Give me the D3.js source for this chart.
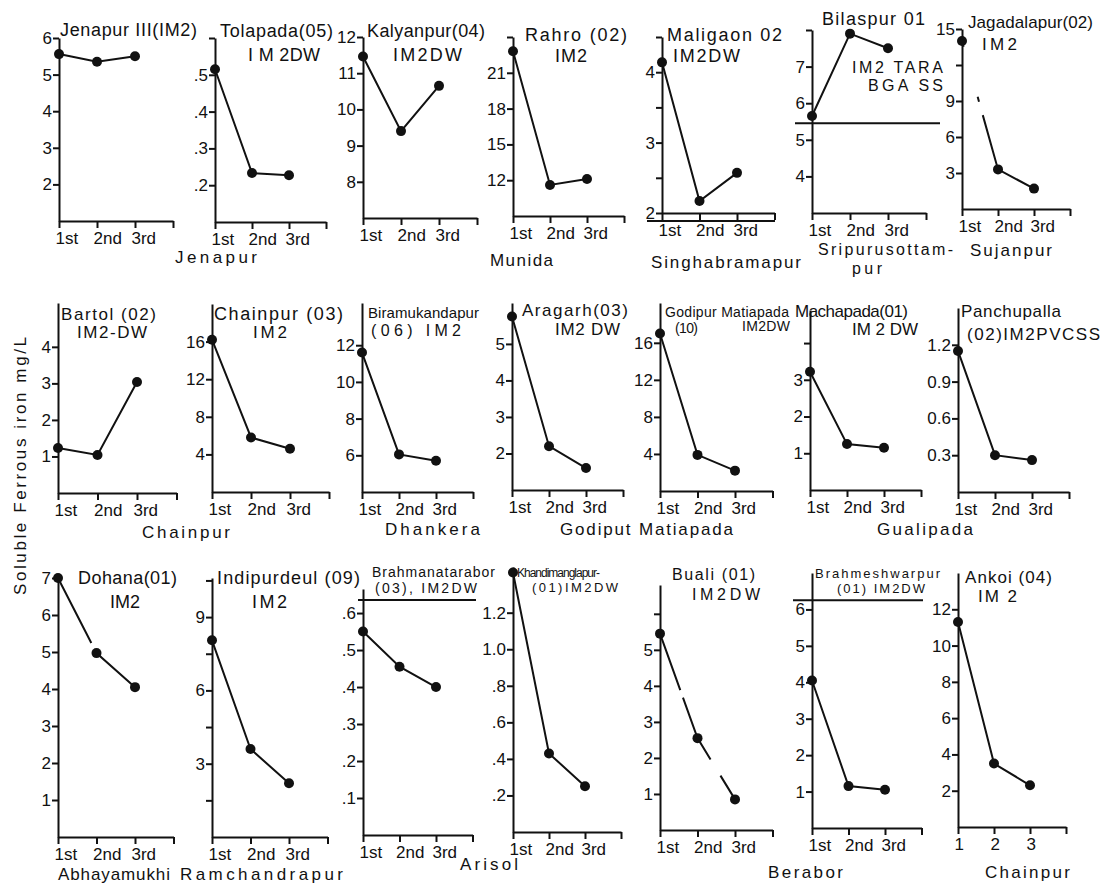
<!DOCTYPE html>
<html>
<head>
<meta charset="utf-8">
<script src="https://cdn.jsdelivr.net/npm/d3@7"></script>
<style>
    body { margin: 0; background: #fff; }
    svg { display: block; font-family: "Liberation Sans", Arial, sans-serif; }
    .axis path, .axis line { stroke: #111; stroke-width: 2; fill: none; }
    .axis text { font-size: 17px; fill: #111; font-family: "Liberation Sans", Arial, sans-serif; }
    .label { fill: #111; }
</style>
</head>
<body>
<script>
var w = 1108;
var h = 887;

var stages = ["1st", "2nd", "3rd"];
var stagesNumbered = ["1", "2", "3"];

var titles = [
    ["Jenapur III(IM2)"],
    ["Tolapada(05)", "I M 2DW"],
    ["Kalyanpur(04)", "IM2DW"],
    ["Rahro (02)", "IM2"],
    ["Maligaon 02", "IM2DW"],
    ["Bilaspur 01", "IM2 TARA", "BGA SS"],
    ["Jagadalapur(02)", "IM2"],
    ["Bartol (02)", "IM2-DW"],
    ["Chainpur (03)", "IM2"],
    ["Biramukandapur", "(06)  IM2"],
    ["Aragarh(03)", "IM2 DW"],
    ["Godipur Matiapada", "(10)", "IM2DW"],
    ["Machapada(01)", "IM 2 DW"],
    ["Panchupalla", "(02)IM2PVCSS"],
    ["Dohana(01)", "IM2"],
    ["Indipurdeul (09)", "IM2"],
    ["Brahmanatarabor", "(03), IM2DW"],
    ["Khandimanglapur-", "(01)IM2DW"],
    ["Buali (01)", "IM2DW"],
    ["Brahmeshwarpur", "(01) IM2DW"],
    ["Ankoi (04)", "IM 2"]
];

// soluble ferrous iron, mg/L, at 1st / 2nd / 3rd sampling
var ferrous = [
    [5.56, 5.35, 5.5],
    [0.515, 0.233, 0.227],
    [11.46, 9.4, 10.65],
    [22.8, 11.6, 12.1],
    [4.14, 2.17, 2.57],
    [5.65, 7.9, 7.5],
    [14, 3.3, 1.7],
    [1.23, 1.04, 3.04],
    [16.2, 5.8, 4.6],
    [11.6, 6.05, 5.7],
    [5.75, 2.2, 1.6],
    [17, 3.9, 2.2],
    [3.22, 1.25, 1.15],
    [1.15, 0.3, 0.26],
    [7, 4.97, 4.05],
    [8.05, 3.6, 2.2],
    [0.55, 0.455, 0.40],
    [1.42, 0.43, 0.25],
    [5.45, 2.55, 0.85],
    [4.05, 1.15, 1.05],
    [11.3, 3.5, 2.3]
];

var yDomains = [
    [1, 6], [0.1, 0.6], [7, 12], [9, 24], [2, 4.5], [3, 8], [0, 15],
    [0, 5.2], [0, 20], [4, 14.3], [1, 6.12], [0, 20.3], [0, 4.9], [0, 1.5],
    [0, 7], [0, 10.6], [0, 0.665], [0, 1.45], [0, 6.8], [0, 7], [0, 14]
];

var yTicks = [
    [2, 3, 4, 5, 6], [0.2, 0.3, 0.4, 0.5, 0.6], [8, 9, 10, 11, 12], [12, 15, 18, 21, 24],
    [2, 2.5, 3, 3.5, 4, 4.5], [4, 5, 6, 7, 8], [3, 6, 9, 12, 15],
    [1, 2, 3, 4], [4, 8, 12, 16], [6, 8, 10, 12], [2, 3, 4, 5], [4, 8, 12, 16], [1, 2, 3, 4], [0.3, 0.6, 0.9, 1.2],
    [1, 2, 3, 4, 5, 6, 7], [1.5, 3, 4.5, 6, 7.5, 9, 10.5], [0.1, 0.2, 0.3, 0.4, 0.5, 0.6],
    [0.2, 0.4, 0.6, 0.8, 1.0, 1.2], [1, 2, 3, 4, 5, 6], [1, 2, 3, 4, 5, 6], [2, 4, 6, 8, 10, 12]
];

var yTickLabels = [
    ["2", "3", "4", "5", "6"], [".2", ".3", ".4", ".5", ""], ["8", "9", "10", "11", "12"], ["12", "15", "18", "21", ""],
    ["2", "", "3", "", "4", ""], ["4", "5", "6", "7", ""], ["3", "6", "9", "", "15"],
    ["1", "2", "3", "4"], ["4", "8", "12", "16"], ["6", "8", "10", "12"], ["2", "3", "4", "5"], ["4", "8", "12", "16"],
    ["1", "2", "3", ""], ["0.3", "0.6", "0.9", "1.2"],
    ["1", "2", "3", "4", "5", "6", "7"], ["", "3", "", "6", "", "9", ""], [".1", ".2", ".3", ".4", ".5", ".6"],
    [".2", ".4", ".6", ".8", "1.0", "1.2"], ["1", "2", "3", "4", "5", ""], ["1", "2", "3", "4", "5", "6"],
    ["2", "4", "6", "8", "10", "12"]
];

// horizontal reference rules drawn across some panels (value on that panel's y scale)
var refLevels = [null, null, null, null, null, 5.45, null,
    null, null, null, null, null, null, null,
    null, null, 0.635, null, null, 6.25, null];

var blockNames = ["Jenapur", "Munida", "Singhabramapur", "Sripurusottam-", "pur", "Sujanpur",
    "Chainpur", "Dhankera", "Godiput  Matiapada", "Gualipada",
    "Abhayamukhi", "Ramchandrapur", "Arisol", "Berabor", "Chainpur"];

var yTitle = "Soluble  Ferrous  iron    mg/L";

// ---- layout ----
// [axis x, step between samplings, baseline y, top y]
var panelLayout = [
    [59, 38, 221, 38], [215, 37, 222, 38], [363, 38, 218, 37], [513, 37, 216, 37],
    [662, 37.5, 213, 37], [812, 38, 213, 30], [962, 36, 209, 29],
    [58, 39.5, 493, 303], [212, 39, 492, 304], [362, 37, 492, 303], [512, 37, 490, 303],
    [660, 37.5, 491, 303], [810, 37, 490, 310], [958, 37, 492, 308],
    [58, 38.5, 837, 578], [212, 38.5, 837, 578], [363, 36.5, 835, 589], [513, 36, 832, 567],
    [660, 37.5, 830, 585], [812, 36.5, 828, 573], [958, 36, 827, 573]
];

// per title line: [x, baseline y, width, font size]
var titleLayout = [
    [[60, 36, 137, 18]],
    [[220, 37, 113, 18], [248, 61, 72, 18]],
    [[367, 37, 118, 18], [393, 61, 69, 18]],
    [[525, 41, 102, 18], [555, 62, 32, 18]],
    [[667, 41, 115, 18], [673, 62, 67, 18]],
    [[822, 25, 103, 18], [852, 73, 91, 16], [868, 91, 75, 16]],
    [[968, 28, 125, 17], [982, 50, 35, 17]],
    [[61, 320, 95, 17], [77, 338, 70, 17]],
    [[214, 320, 129, 18], [253, 338, 34, 17]],
    [[368, 318, 111, 15], [371, 336, 90, 16]],
    [[522, 316, 106, 17], [555, 335, 65, 17]],
    [[665, 317, 124, 14], [675, 333, 23, 14], [742, 331, 48, 14]],
    [[795, 317, 113, 17], [852, 335, 66, 17]],
    [[961, 317, 100, 17], [967, 340, 133, 17]],
    [[78, 584, 99, 18], [110, 608, 30, 18]],
    [[217, 584, 143, 18], [252, 608, 35, 18]],
    [[372, 577, 123, 14], [375, 593, 102, 14]],
    [[517, 577, 83, 12], [532, 592, 86, 13]],
    [[672, 580, 83, 16], [692, 600, 68, 16]],
    [[815, 578, 125, 13], [837, 593, 88, 13]],
    [[965, 583, 87, 17], [978, 602, 39, 17]]
];

var refExtent = { 5: [-17, 128], 16: [-5, 113], 19: [-19, 111] };
var underline = { 4: [-15, 113, 8] };
var dashes = { 6: "6,52,5,14,2000", 14: "73,9,500", 18: "60,8,68,19,200" };

// [x, baseline y, width]
var blockLayout = [
    [175, 263, 82], [490, 266, 63], [651, 268, 150], [818, 255, 135], [852, 274, 30], [970, 256, 82],
    [142, 538, 88], [385, 535, 95], [560, 535, 173], [877, 535, 96],
    [58, 880, 112], [180, 880, 163], [460, 870, 58], [768, 878, 75], [985, 878, 85]
];

var svg = d3.select("body")
    .append("svg")
    .attr("width", w)
    .attr("height", h);

titles.forEach(function (t, i) {
    drawPanel(i);
});

function drawPanel(i) {
    var L = panelLayout[i];
    var ax = L[0], step = L[1], base = L[2], top = L[3];
    var labels = i == 20 ? stagesNumbered : stages;

    var xScale = d3.scalePoint()
        .domain(labels.concat(["end"]))
        .range([ax, ax + 3 * step]);

    var yScale = d3.scaleLinear()
        .domain(yDomains[i])
        .range([base, top]);

    var g = svg.append("g");

    var xAxis = d3.axisBottom(xScale)
        .tickSize(7)
        .tickSizeOuter(0)
        .tickFormat(function (d) { return d == "end" ? "" : d; });

    g.append("g")
        .attr("class", "axis")
        .attr("transform", "translate(0," + base + ")")
        .call(xAxis)
        .selectAll("text")
        .attr("y", 23)
        .attr("dy", 0)
        .attr("dx", -4)
        .attr("text-anchor", "start");

    var yAxis = d3.axisLeft(yScale)
        .tickValues(yTicks[i])
        .tickFormat(function (d, j) { return yTickLabels[i][j]; })
        .tickSize(6)
        .tickPadding(1)
        .tickSizeOuter(0);

    g.append("g")
        .attr("class", "axis")
        .attr("transform", "translate(" + ax + ",0)")
        .call(yAxis);

    if (refLevels[i] != null) {
        g.append("line")
            .attr("x1", ax + refExtent[i][0])
            .attr("x2", ax + refExtent[i][1])
            .attr("y1", yScale(refLevels[i]))
            .attr("y2", yScale(refLevels[i]))
            .style("stroke", "#111")
            .style("stroke-width", 2);
    }

    if (underline[i]) {
        g.append("line")
            .attr("x1", ax + underline[i][0])
            .attr("x2", ax + underline[i][1])
            .attr("y1", base + underline[i][2])
            .attr("y2", base + underline[i][2])
            .style("stroke", "#111")
            .style("stroke-width", 2);
    }

    var line = d3.line()
        .x(function (d, j) { return xScale(labels[j]); })
        .y(function (d) { return yScale(d); });

    g.append("path")
        .datum(ferrous[i])
        .attr("d", line)
        .style("fill", "none")
        .style("stroke", "#111")
        .style("stroke-width", 2)
        .style("stroke-dasharray", dashes[i] || null);

    g.selectAll("circle")
        .data(ferrous[i])
        .enter()
        .append("circle")
        .attr("cx", function (d, j) { return xScale(labels[j]); })
        .attr("cy", function (d) { return yScale(d); })
        .attr("r", 5)
        .style("fill", "#111");

    titles[i].forEach(function (txt, k) {
        var p = titleLayout[i][k];
        g.append("text")
            .attr("class", "label")
            .attr("x", p[0])
            .attr("y", p[1])
            .attr("textLength", p[2])
            .attr("lengthAdjust", "spacing")
            .style("font-size", p[3] + "px")
            .text(txt);
    });
}

blockNames.forEach(function (name, i) {
    var p = blockLayout[i];
    svg.append("text")
        .attr("class", "label")
        .attr("x", p[0])
        .attr("y", p[1])
        .attr("textLength", p[2])
        .attr("lengthAdjust", "spacing")
        .style("font-size", i == 3 || i == 4 ? "16px" : "17px")
        .text(name);
});

svg.append("text")
    .attr("class", "label")
    .attr("transform", "translate(26,466) rotate(-90)")
    .attr("text-anchor", "middle")
    .attr("textLength", 258)
    .attr("lengthAdjust", "spacing")
    .style("font-size", "17px")
    .text(yTitle);
</script>
</body>
</html>
